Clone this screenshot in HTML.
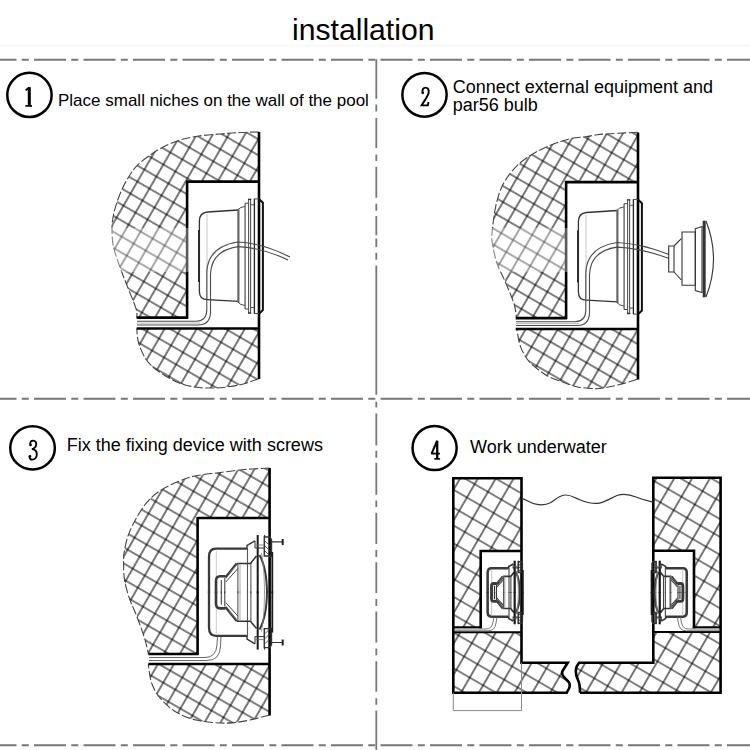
<!DOCTYPE html>
<html><head><meta charset="utf-8"><style>
html,body{margin:0;padding:0;background:#fff;}
svg{display:block;}
text{font-family:"Liberation Sans",sans-serif;fill:#000;}
text.ser{font-family:"Liberation Serif",serif;fill:#000;}
</style></head><body>
<svg width="750" height="750" viewBox="0 0 750 750">
<defs>
<g id="fxh">
<path d="M247 548.7 H216 Q209 548.7 209 557 V593.3" stroke="#3a3a3a" stroke-width="2.3" fill="none"/>
<path d="M247 548.7 V545.5 L255 540.8" stroke="#333" stroke-width="1.4" fill="none"/>
<path d="M216.3 551 V593.3" stroke="#bbb" stroke-width="0.8"/>
<path d="M247.5 548 V593.3" stroke="#555" stroke-width="1.1"/>
<path d="M225.4 576.2 H220 Q216 576.2 216 581 V593.3" stroke="#3a3a3a" stroke-width="2.6" fill="none"/>
<path d="M221.3 580 V593.3 M224.8 578 V593.3" stroke="#333" stroke-width="1" fill="none"/>
<path d="M225.4 577.5 L236.7 563.6" stroke="#3a3a3a" stroke-width="2.4" fill="none"/>
<path d="M225.8 582 L237.9 568.5" stroke="#444" stroke-width="1" fill="none"/>
<path d="M236.7 563.4 H250.4 L256.5 556" stroke="#333" stroke-width="1.5" fill="none"/>
<path d="M237.9 563 V593.3 M250.9 563 V593.3" stroke="#444" stroke-width="1" fill="none"/>
<path d="M257.7 535 V593.3" stroke="#1a1a1a" stroke-width="2"/>
<path d="M259.5 555 Q266.8 568 267 593.3" stroke="#3a3a3a" stroke-width="2" fill="none"/>
<path d="M261.5 553 Q264.5 570 264.5 593.3" stroke="#888" stroke-width="0.8" fill="none"/>
<path d="M240 564 V593.3" stroke="#999" stroke-width="0.8" fill="none"/>
<path d="M229 573.5 L238 563.4" stroke="#777" stroke-width="0.9" fill="none"/>
<path d="M264.5 535 V556" stroke="#333" stroke-width="1.1"/>
<path d="M264.3 537 H270 L271.5 540 V556 H264.3 Z" stroke="#333" stroke-width="1.4" fill="none"/>
<path d="M265 541 L270 546 M265 546 L270 551 M265 551 L269 555" stroke="#444" stroke-width="0.9"/>
<path d="M255 540.8 V548 H264" stroke="#333" stroke-width="1" fill="none"/>
<path d="M255.5 545 H263.5" stroke="#666" stroke-width="0.8"/>
<path d="M272.3 552 V593.3" stroke="#1a1a1a" stroke-width="1.8"/>
</g>
<g id="fx"><use href="#fxh"/><use href="#fxh" transform="translate(0 1184.6) scale(1 -1)"/></g>
<g id="fxh4">
<path d="M247 548.7 H216 Q209 548.7 209 557 V593.3" stroke="#3a3a3a" stroke-width="4.60" fill="none"/>
<path d="M247 548.7 V545.5 L255 540.8" stroke="#333" stroke-width="2.80" fill="none"/>
<path d="M216.3 551 V593.3" stroke="#bbb" stroke-width="1.60"/>
<path d="M247.5 548 V593.3" stroke="#555" stroke-width="2.20"/>
<path d="M225.4 576.2 H220 Q216 576.2 216 581 V593.3" stroke="#3a3a3a" stroke-width="5.20" fill="none"/>
<path d="M221.3 580 V593.3 M224.8 578 V593.3" stroke="#333" stroke-width="2.00" fill="none"/>
<path d="M225.4 577.5 L236.7 563.6" stroke="#3a3a3a" stroke-width="4.80" fill="none"/>
<path d="M225.8 582 L237.9 568.5" stroke="#444" stroke-width="2.00" fill="none"/>
<path d="M236.7 563.4 H250.4 L256.5 556" stroke="#333" stroke-width="3.00" fill="none"/>
<path d="M237.9 563 V593.3 M250.9 563 V593.3" stroke="#444" stroke-width="2.00" fill="none"/>
<path d="M257.7 535 V593.3" stroke="#1a1a1a" stroke-width="4.00"/>
<path d="M259.5 555 Q266.8 568 267 593.3" stroke="#3a3a3a" stroke-width="4.00" fill="none"/>
<path d="M261.5 553 Q264.5 570 264.5 593.3" stroke="#888" stroke-width="1.60" fill="none"/>
<path d="M240 564 V593.3" stroke="#999" stroke-width="1.60" fill="none"/>
<path d="M229 573.5 L238 563.4" stroke="#777" stroke-width="1.80" fill="none"/>
<path d="M264.5 535 V556" stroke="#333" stroke-width="2.20"/>
<path d="M264.3 537 H270 L271.5 540 V556 H264.3 Z" stroke="#333" stroke-width="2.80" fill="none"/>
<path d="M265 541 L270 546 M265 546 L270 551 M265 551 L269 555" stroke="#444" stroke-width="1.80"/>
<path d="M255 540.8 V548 H264" stroke="#333" stroke-width="2.00" fill="none"/>
<path d="M255.5 545 H263.5" stroke="#666" stroke-width="1.60"/>
<path d="M272.3 552 V593.3" stroke="#1a1a1a" stroke-width="3.60"/>
</g>
<g id="fx4"><use href="#fxh4"/><use href="#fxh4" transform="translate(0 1184.6) scale(1 -1)"/></g>
<pattern id="hp1" patternUnits="userSpaceOnUse" width="13.89" height="13.89" patternTransform="translate(208.27 142.36) rotate(30.05) translate(-6.945 -6.945)"><path d="M0 6.945H13.89M6.945 0V13.89" stroke="#000" stroke-width="1.05" fill="none"/></pattern>
<pattern id="hp2" patternUnits="userSpaceOnUse" width="13.88" height="13.88" patternTransform="translate(208.73 138.34) rotate(30.05) translate(-6.94 -6.94)"><path d="M0 6.94H13.88M6.94 0V13.88" stroke="#000" stroke-width="1.05" fill="none"/></pattern>
<pattern id="hp3" patternUnits="userSpaceOnUse" width="13.91" height="13.91" patternTransform="translate(212.47 486.2) rotate(30.01) translate(-6.955 -6.955)"><path d="M0 6.955H13.91M6.955 0V13.91" stroke="#000" stroke-width="1.05" fill="none"/></pattern>
<pattern id="hp4" patternUnits="userSpaceOnUse" width="15.443" height="15.443" patternTransform="translate(474.64 484.13) rotate(30.06) translate(-7.7215 -7.7215)"><path d="M0 7.7215H15.443M7.7215 0V15.443" stroke="#000" stroke-width="1.05" fill="none"/></pattern>
</defs>
<rect width="750" height="750" fill="#fff"/>
<text x="292" y="39.6" font-size="30" textLength="142.5" lengthAdjust="spacingAndGlyphs">installation</text>
<line x1="0" y1="45.7" x2="750" y2="45.7" stroke="#f3f3f3" stroke-width="1"/>
<line x1="0" y1="59.7" x2="750" y2="59.7" stroke="#777" stroke-width="2" stroke-dasharray="32 5.3 7 5.2" stroke-dashoffset="15.5"/>
<line x1="0" y1="398.8" x2="750" y2="398.8" stroke="#777" stroke-width="2" stroke-dasharray="32 5.3 7 5.2" stroke-dashoffset="15.5"/>
<line x1="0" y1="745.3" x2="750" y2="745.3" stroke="#777" stroke-width="2" stroke-dasharray="32 5.3 7 5.2" stroke-dashoffset="15.5"/>
<path d="M376.3 59.3V98.7M376.3 104.6V111.5M376.3 117.9V148.1M376.3 154.5V160.9M376.3 166.8V197.7M376.3 203.7V210.7M376.3 216V235.2M376.3 238.4V247M376.3 252.8V259.7M376.3 265.6V394.7M376.3 401.7V407.6M376.3 413.5V445.5M376.3 450.8V457.7M376.3 462.7V494.7M376.3 500.5V506.9M376.3 512.8V544M376.3 549.9V556.9M376.3 562.2V593.1M376.3 599V606M376.3 611.6V642.5M376.3 648.4V655.3M376.3 661.2V691.7M376.3 698.2V704.8M376.3 710.4V750" stroke="#777" stroke-width="1.8" fill="none"/>
<ellipse cx="29.45" cy="94.9" rx="22.2" ry="22.05" fill="none" stroke="#000" stroke-width="2.5"/>
<ellipse cx="424.5" cy="94.85" rx="22.15" ry="21.8" fill="none" stroke="#000" stroke-width="2.5"/>
<ellipse cx="32.55" cy="447.9" rx="22.3" ry="21.65" fill="none" stroke="#000" stroke-width="2.5"/>
<ellipse cx="434.6" cy="448" rx="22.05" ry="22.05" fill="none" stroke="#000" stroke-width="2.5"/>
<g fill="none" stroke="#000" stroke-linecap="butt"><path d="M29.3 87.2 V106.2" stroke-width="3"/><path d="M29.5 87.4 L25.6 90.2" stroke-width="1.9"/><path d="M25.4 105.9 H32" stroke-width="1.7"/><path d="M422.6 92.6 C421.8 89.2 423.6 87.6 425.5 87.6 C428 87.6 429 89.8 428.7 92.4 C428.3 95.8 425.2 99.6 421.9 104.8 L421.6 105.4 H427.8 L428.5 102" stroke-width="1.9"/><path d="M30.4 444.6 C29.7 441.6 31.5 440.6 33.1 440.6 C35.4 440.6 36.4 442.3 36.2 444.5 C35.9 447 34.2 448.6 31.9 449.1 C34.7 449.3 36.8 451.2 36.8 454.2 C36.8 457.6 34.5 459.6 32.3 459.6 C30.6 459.6 29.4 458.4 29.6 456.4" stroke-width="1.9"/><path d="M437.2 440.6 V459" stroke-width="2.3"/><path d="M437 441 L431.6 453.6" stroke-width="2"/><path d="M431.2 453.6 H439.9" stroke-width="1.8"/><path d="M434.3 458.9 H440.1" stroke-width="1.6"/></g>
<g fill="#000"><circle cx="422.7" cy="92.8" r="1.4"/><circle cx="30.5" cy="444.9" r="1.3"/><circle cx="29.9" cy="456.3" r="1.3"/></g>
<text x="58" y="105.7" font-size="17">Place small niches on the wall of the pool</text>
<text x="452.8" y="92.9" font-size="18">Connect external equipment and</text>
<text x="452.8" y="110.7" font-size="18">par56 bulb</text>
<text x="66.8" y="450.8" font-size="18">Fix the fixing device with screws</text>
<text x="470" y="452.7" font-size="18">Work underwater</text>
<g id="p1"><path d="M259 132 C255.83 132.08 246.50 132.17 240 132.5 C233.50 132.83 226.88 133.42 220 134 C213.12 134.58 205.37 135.00 198.7 136 C192.03 137.00 186.00 138.12 180 140 C174.00 141.88 167.58 144.85 162.7 147.3 C157.82 149.75 154.93 151.70 150.7 154.7 C146.47 157.70 140.87 161.75 137.3 165.3 C133.73 168.85 131.85 172.00 129.3 176 C126.75 180.00 124.22 184.42 122 189.3 C119.78 194.18 117.45 200.85 116 205.3 C114.55 209.75 113.97 212.33 113.3 216 C112.63 219.67 112.00 222.30 112 227.3 C112.00 232.30 111.97 239.33 113.3 246 C114.63 252.67 117.77 260.85 120 267.3 C122.23 273.75 124.03 277.80 126.7 284.7 C129.37 291.60 134.33 303.22 136 308.7 C137.67 314.18 136.58 316.12 136.7 317.6 L187.1 317.6 L187.1 181.6 L259 181.6 Z" fill="url(#hp1)"/>
<path d="M259 378.7 C257.17 379.33 251.05 381.50 248 382.5 C244.95 383.50 244.03 383.98 240.7 384.7 C237.37 385.42 232.00 386.25 228 386.8 C224.00 387.35 221.92 387.92 216.7 388 C211.48 388.08 203.37 388.30 196.7 387.3 C190.03 386.30 183.37 384.88 176.7 382 C170.03 379.12 161.82 373.78 156.7 370 C151.58 366.22 149.00 363.75 146 359.3 C143.00 354.85 140.25 348.43 138.7 343.3 C137.15 338.17 137.03 330.97 136.7 328.5 L136.7 328.5 L259 328.5 Z" fill="url(#hp1)"/>
<path d="M259 132 C255.83 132.08 246.50 132.17 240 132.5 C233.50 132.83 226.88 133.42 220 134 C213.12 134.58 205.37 135.00 198.7 136 C192.03 137.00 186.00 138.12 180 140 C174.00 141.88 167.58 144.85 162.7 147.3 C157.82 149.75 154.93 151.70 150.7 154.7 C146.47 157.70 140.87 161.75 137.3 165.3 C133.73 168.85 131.85 172.00 129.3 176 C126.75 180.00 124.22 184.42 122 189.3 C119.78 194.18 117.45 200.85 116 205.3 C114.55 209.75 113.97 212.33 113.3 216 C112.63 219.67 112.00 222.30 112 227.3 C112.00 232.30 111.97 239.33 113.3 246 C114.63 252.67 117.77 260.85 120 267.3 C122.23 273.75 124.03 277.80 126.7 284.7 C129.37 291.60 134.33 303.22 136 308.7 C137.67 314.18 136.58 316.12 136.7 317.6" fill="none" stroke="#444" stroke-width="1.1" stroke-dasharray="9 2.5"/>
<path d="M259 378.7 C257.17 379.33 251.05 381.50 248 382.5 C244.95 383.50 244.03 383.98 240.7 384.7 C237.37 385.42 232.00 386.25 228 386.8 C224.00 387.35 221.92 387.92 216.7 388 C211.48 388.08 203.37 388.30 196.7 387.3 C190.03 386.30 183.37 384.88 176.7 382 C170.03 379.12 161.82 373.78 156.7 370 C151.58 366.22 149.00 363.75 146 359.3 C143.00 354.85 140.25 348.43 138.7 343.3 C137.15 338.17 137.03 330.97 136.7 328.5" fill="none" stroke="#444" stroke-width="1.1" stroke-dasharray="9 2.5"/>
<path d="M259 132V379 M187.1 181.6H260 M187.1 180.3V318.5 M136.7 317.6H188 M136.7 328.5H260" stroke="#000" stroke-width="2.6" fill="none"/><path d="M238.4 210 L207.5 212 Q199.4 212.8 199.4 221 V291.5 Q199.4 299.7 207.5 299.7 L238.4 301.3" stroke="#333" stroke-width="1.3" fill="none"/>
<path d="M198.7 230V282" stroke="#222" stroke-width="1.3"/>
<path d="M207 214V299" stroke="#bbb" stroke-width="0.8"/>
<path d="M238.4 209.5 V302.5" stroke="#666" stroke-width="2.2"/>
<path d="M237.9 209.8 Q240 207 245.1 206.4 M237.9 302 Q240 305 245.1 305.6" stroke="#444" stroke-width="1" fill="none"/>
<path d="M245.1 203.2 V309" stroke="#666" stroke-width="1.4"/>
<path d="M245.1 203.2 H248.3 M245.1 309 H248.3" stroke="#444" stroke-width="1"/>
<path d="M248.6 198.7 V313.5 M250.6 198.7 V313.5" stroke="#555" stroke-width="1.1"/>
<path d="M248 199.3 H251.2 M248 313 H251.2" stroke="#333" stroke-width="1.3"/>
<path d="M250.6 204.8 H254.4 M250.6 307.5 H254.4" stroke="#555" stroke-width="1"/>
<path d="M254.4 198.7 V313.8" stroke="#222" stroke-width="1.3"/>
<path d="M254.4 198.9 H259 M254.4 313.6 H259" stroke="#444" stroke-width="1"/>
<path d="M259.5 199.5 L262.9 202.7 V310 L259.5 313.3" stroke="#111" stroke-width="2" fill="none"/>
<path d="M137 321.2 H196 Q206.6 321 206.8 310 V272 Q208 246.5 238 242 Q262 243 290 257" stroke="#4a4a4a" stroke-width="1.1" fill="none"/>
<path d="M137 325 H198 Q210.3 325 210.5 312 V274 Q211.5 250.5 238 246.6 Q262 247.5 288 260" stroke="#4a4a4a" stroke-width="1.1" fill="none"/>
<path d="M137 323.1 H200" stroke="#aaa" stroke-width="0.8"/></g>
<g transform="translate(379 0.5)"><path d="M258.7 131.8 C255.30 131.97 243.70 132.52 238.3 132.8 C232.90 133.08 229.63 133.27 226.3 133.5 C222.97 133.73 221.63 133.75 218.3 134.2 C214.97 134.65 210.92 135.52 206.3 136.2 C201.68 136.88 196.42 136.88 190.6 138.3 C184.78 139.72 177.53 142.17 171.4 144.7 C165.27 147.23 159.13 150.30 153.8 153.5 C148.47 156.70 143.53 160.17 139.4 163.9 C135.27 167.63 131.93 171.77 129 175.9 C126.07 180.03 123.80 183.90 121.8 188.7 C119.80 193.50 118.20 199.63 117 204.7 C115.80 209.77 115.27 214.38 114.6 219.1 C113.93 223.82 113.23 229.18 113 233 C112.77 236.82 112.37 237.00 113.2 242 C114.03 247.00 115.77 256.32 118 263 C120.23 269.68 123.75 275.35 126.6 282.1 C129.45 288.85 133.28 297.58 135.1 303.5 C136.92 309.42 137.10 315.25 137.5 317.6 L187.1 317.6 L187.1 181.6 L259 181.6 Z" fill="url(#hp2)"/>
<path d="M258.3 378.8 C255.75 379.58 248.00 382.17 243 383.5 C238.00 384.83 232.75 386.02 228.3 386.8 C223.85 387.58 221.40 388.30 216.3 388.2 C211.20 388.10 203.47 387.43 197.7 386.2 C191.93 384.97 186.15 382.37 181.7 380.8 C177.25 379.23 174.15 378.32 171 376.8 C167.85 375.28 166.30 374.33 162.8 371.7 C159.30 369.07 153.55 365.27 150 361 C146.45 356.73 143.53 351.52 141.5 346.1 C139.47 340.68 138.42 331.43 137.8 328.5 L136.7 328.5 L259 328.5 Z" fill="url(#hp2)"/>
<path d="M258.7 131.8 C255.30 131.97 243.70 132.52 238.3 132.8 C232.90 133.08 229.63 133.27 226.3 133.5 C222.97 133.73 221.63 133.75 218.3 134.2 C214.97 134.65 210.92 135.52 206.3 136.2 C201.68 136.88 196.42 136.88 190.6 138.3 C184.78 139.72 177.53 142.17 171.4 144.7 C165.27 147.23 159.13 150.30 153.8 153.5 C148.47 156.70 143.53 160.17 139.4 163.9 C135.27 167.63 131.93 171.77 129 175.9 C126.07 180.03 123.80 183.90 121.8 188.7 C119.80 193.50 118.20 199.63 117 204.7 C115.80 209.77 115.27 214.38 114.6 219.1 C113.93 223.82 113.23 229.18 113 233 C112.77 236.82 112.37 237.00 113.2 242 C114.03 247.00 115.77 256.32 118 263 C120.23 269.68 123.75 275.35 126.6 282.1 C129.45 288.85 133.28 297.58 135.1 303.5 C136.92 309.42 137.10 315.25 137.5 317.6" fill="none" stroke="#444" stroke-width="1.1" stroke-dasharray="9 2.5"/>
<path d="M258.3 378.8 C255.75 379.58 248.00 382.17 243 383.5 C238.00 384.83 232.75 386.02 228.3 386.8 C223.85 387.58 221.40 388.30 216.3 388.2 C211.20 388.10 203.47 387.43 197.7 386.2 C191.93 384.97 186.15 382.37 181.7 380.8 C177.25 379.23 174.15 378.32 171 376.8 C167.85 375.28 166.30 374.33 162.8 371.7 C159.30 369.07 153.55 365.27 150 361 C146.45 356.73 143.53 351.52 141.5 346.1 C139.47 340.68 138.42 331.43 137.8 328.5" fill="none" stroke="#444" stroke-width="1.1" stroke-dasharray="9 2.5"/>
<path d="M259 132V379 M187.1 181.6H260 M187.1 180.3V318.5 M136.7 317.6H188 M136.7 328.5H260" stroke="#000" stroke-width="2.6" fill="none"/><path d="M238.4 210 L207.5 212 Q199.4 212.8 199.4 221 V291.5 Q199.4 299.7 207.5 299.7 L238.4 301.3" stroke="#333" stroke-width="1.3" fill="none"/>
<path d="M198.7 230V282" stroke="#222" stroke-width="1.3"/>
<path d="M207 214V299" stroke="#bbb" stroke-width="0.8"/>
<path d="M238.4 209.5 V302.5" stroke="#666" stroke-width="2.2"/>
<path d="M237.9 209.8 Q240 207 245.1 206.4 M237.9 302 Q240 305 245.1 305.6" stroke="#444" stroke-width="1" fill="none"/>
<path d="M245.1 203.2 V309" stroke="#666" stroke-width="1.4"/>
<path d="M245.1 203.2 H248.3 M245.1 309 H248.3" stroke="#444" stroke-width="1"/>
<path d="M248.6 198.7 V313.5 M250.6 198.7 V313.5" stroke="#555" stroke-width="1.1"/>
<path d="M248 199.3 H251.2 M248 313 H251.2" stroke="#333" stroke-width="1.3"/>
<path d="M250.6 204.8 H254.4 M250.6 307.5 H254.4" stroke="#555" stroke-width="1"/>
<path d="M254.4 198.7 V313.8" stroke="#222" stroke-width="1.3"/>
<path d="M254.4 198.9 H259 M254.4 313.6 H259" stroke="#444" stroke-width="1"/>
<path d="M259.5 199.5 L262.9 202.7 V310 L259.5 313.3" stroke="#111" stroke-width="2" fill="none"/>
<path d="M137 321.2 H196 Q206.6 321 206.8 310 V272 Q208 246.5 238 242 Q262 243 290 254" stroke="#4a4a4a" stroke-width="1.1" fill="none"/>
<path d="M137 325 H198 Q210.3 325 210.5 312 V274 Q211.5 250.5 238 246.6 Q262 247.5 290 258" stroke="#4a4a4a" stroke-width="1.1" fill="none"/>
<path d="M137 323.1 H200" stroke="#aaa" stroke-width="0.8"/></g>
<path d="M269.6 468 C265.50 468.25 253.48 468.72 245 469.5 C236.52 470.28 227.08 471.62 218.7 472.7 C210.32 473.78 201.37 474.57 194.7 476 C188.03 477.43 184.48 478.85 178.7 481.3 C172.92 483.75 165.33 487.13 160 490.7 C154.67 494.27 150.70 498.03 146.7 502.7 C142.70 507.37 139.12 513.15 136 518.7 C132.88 524.25 130.00 530.23 128 536 C126.00 541.77 124.73 548.47 124 553.3 C123.27 558.13 123.48 560.33 123.6 565 C123.72 569.67 123.63 575.47 124.7 581.3 C125.77 587.13 128.00 594.22 130 600 C132.00 605.78 134.25 609.55 136.7 616 C139.15 622.45 142.75 632.37 144.7 638.7 C146.65 645.03 147.78 651.45 148.4 654 L197.6 654 L197.6 518 L269.6 518 Z" fill="url(#hp3)"/>
<path d="M269.6 715 C266.33 715.83 255.77 718.75 250 720 C244.23 721.25 240.00 722.00 235 722.5 C230.00 723.00 226.50 723.42 220 723 C213.50 722.58 203.33 721.83 196 720 C188.67 718.17 182.00 715.67 176 712 C170.00 708.33 164.00 702.67 160 698 C156.00 693.33 153.83 688.67 152 684 C150.17 679.33 149.60 673.33 149 670 C148.40 666.67 148.50 665.00 148.4 664 L148.4 664 L269.6 664 Z" fill="url(#hp3)"/>
<path d="M269.6 468 C265.50 468.25 253.48 468.72 245 469.5 C236.52 470.28 227.08 471.62 218.7 472.7 C210.32 473.78 201.37 474.57 194.7 476 C188.03 477.43 184.48 478.85 178.7 481.3 C172.92 483.75 165.33 487.13 160 490.7 C154.67 494.27 150.70 498.03 146.7 502.7 C142.70 507.37 139.12 513.15 136 518.7 C132.88 524.25 130.00 530.23 128 536 C126.00 541.77 124.73 548.47 124 553.3 C123.27 558.13 123.48 560.33 123.6 565 C123.72 569.67 123.63 575.47 124.7 581.3 C125.77 587.13 128.00 594.22 130 600 C132.00 605.78 134.25 609.55 136.7 616 C139.15 622.45 142.75 632.37 144.7 638.7 C146.65 645.03 147.78 651.45 148.4 654" fill="none" stroke="#444" stroke-width="1.1" stroke-dasharray="9 2.5"/>
<path d="M269.6 715 C266.33 715.83 255.77 718.75 250 720 C244.23 721.25 240.00 722.00 235 722.5 C230.00 723.00 226.50 723.42 220 723 C213.50 722.58 203.33 721.83 196 720 C188.67 718.17 182.00 715.67 176 712 C170.00 708.33 164.00 702.67 160 698 C156.00 693.33 153.83 688.67 152 684 C150.17 679.33 149.60 673.33 149 670 C148.40 666.67 148.50 665.00 148.4 664" fill="none" stroke="#444" stroke-width="1.1" stroke-dasharray="9 2.5"/>
<path d="M269.6 468V715.5 M197.6 518H270.6 M197.6 517V655 M148.4 654H198.6 M148.4 664H270.6" stroke="#000" stroke-width="2.6" fill="none"/>
<path d="M149 657.5 H205 Q216 657.5 217 645 L217.5 636" stroke="#666" stroke-width="1" fill="none"/>
<path d="M149 660.5 H207 Q220 660.5 220.5 646 L221 636" stroke="#666" stroke-width="1" fill="none"/>
<use href="#fx"/>
<path d="M271 541.9H282.7 M271 642.5H282.7" stroke="#333" stroke-width="1.2"/>
<path d="M282.7 539V545 M282.7 639.5V645.5" stroke="#222" stroke-width="2"/>
<path d="M453.3 478.3 H521.5 V551 H480.7 V627.3 H453.3 Z" fill="url(#hp4)"/><path d="M453.3 632.2 H521.5 V662.7 H567.7 L562.5 671 Q561.3 674 563.8 677 L568.8 682 Q570.6 685 569 688.5 L566.7 692.7 H453.3 Z" fill="url(#hp4)"/>
<path d="M653.3 477.7 H720.6 V627.3 H694 V550.7 H653.3 Z" fill="url(#hp4)"/><path d="M653.3 632 H720.6 V692.7 H580 L580 692.7 Q580 684 578 680 Q575.8 676 575.8 671 Q576 666 579.3 662.7 H653.3 Z" fill="url(#hp4)"/>
<path d="M453.3 477.1 V693.9 M452.1 478.3 H522.7 M521.5 477.1 V662.7 H567.7 L562.5 671 Q561.3 674 563.8 677 L568.8 682 Q570.6 685 569 688.5 L566.7 692.7 M480.7 551 H521.5 M480.7 549.8 V628.5 M452.1 692.7 H567.7" stroke="#000" stroke-width="2.6" fill="none"/>
<path d="M453.3 627.3 H481.9 M453.3 632.2 H521.5" stroke="#000" stroke-width="2"/>
<path d="M653.3 476.5 V662.7 H579.3 Q576 666 575.8 671 Q575.8 676 578 680 Q580 684 580 692.7 M652.1 477.7 H721.8 M720.6 476.5 V693.9 M652.1 550.7 H694 M694 549.5 V628.5 M580 692.7 H721.8" stroke="#000" stroke-width="2.6" fill="none"/>
<path d="M692.8 627.3 H720.6 M653.3 632 H720.6" stroke="#000" stroke-width="2"/>
<path d="M453.3 692.5 V710.6 H521.5 V662.7" stroke="#888" stroke-width="1" fill="none"/>
<path d="M521.8 498.4 C527 500 530 503 536 504.2 C542 505.5 546 505 551 502.5 C556 499 559 495.5 565 495 C571 494.8 573 497 579 499.5 C585 502 590 504 598 503.4 C605 502.5 610 498.5 617 495.5 C624 493 630 494.5 636 497 C643 500 648 501 653.3 502.2" stroke="#333" stroke-width="1.2" fill="none"/>
<use href="#fx4" transform="translate(371.64 263.77) scale(0.555)"/>
<path d="M455 629 H486 Q492 629 493 622 L494 617" stroke="#666" stroke-width="0.9" fill="none"/>
<path d="M455 630.8 H488 Q495 630.8 496 623 L497 617" stroke="#666" stroke-width="0.9" fill="none"/>
<g transform="translate(1174.4 0) scale(-1 1)"><use href="#fx4" transform="translate(371.64 263.77) scale(0.555)"/>
<path d="M455 629 H486 Q492 629 493 622 L494 617" stroke="#666" stroke-width="0.9" fill="none"/>
<path d="M455 630.8 H488 Q495 630.8 496 623 L497 617" stroke="#666" stroke-width="0.9" fill="none"/></g>
<path d="M668.7 246 H674 V272 H668.7 Z" stroke="#333" stroke-width="1.1" fill="none"/>
<path d="M674 246 L681.3 238.7 M674 272 L681.3 280" stroke="#333" stroke-width="1.1" fill="none"/>
<path d="M682 232 H695.3 V285.3 H682 Z" stroke="#333" stroke-width="1.1" fill="none"/>
<path d="M695.3 228.7 L702 226.5 V292.5 L695.3 290.5 Z" stroke="#333" stroke-width="1.1" fill="none"/>
<path d="M704.2 220.7 V297.3" stroke="#333" stroke-width="3"/>
<path d="M706 221 Q721 259 706 297" stroke="#333" stroke-width="1.1" fill="none"/>
<rect x="104" y="228" width="86" height="44" fill="#fff" fill-opacity="0.35"/>
<rect x="484" y="228" width="85" height="44" fill="#fff" fill-opacity="0.35"/>
</svg>
</body></html>
